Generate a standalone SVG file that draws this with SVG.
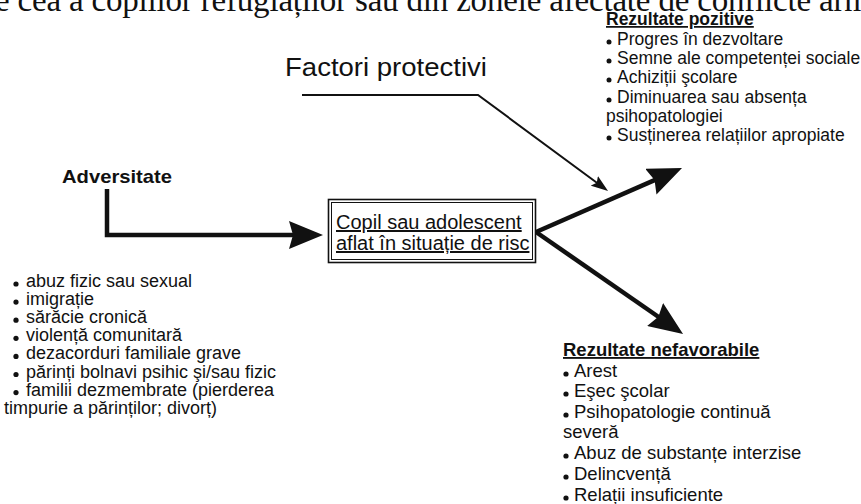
<svg xmlns="http://www.w3.org/2000/svg" width="861" height="504" viewBox="0 0 861 504">
<defs>
<style>
text{font-family:"Liberation Sans",Arial,sans-serif;fill:#111}
.top{font-family:"Liberation Serif","Times New Roman",serif;font-size:33px}
.b{font-weight:bold}
.u{text-decoration:underline}
.l18{font-size:18px}
.r17{font-size:17.5px}
.r18{font-size:18.5px}
.thick{fill:none;stroke:#111;stroke-width:4.5;stroke-linejoin:miter}
.thin{fill:none;stroke:#111;stroke-width:2}
.dot{fill:#111}
</style>
<marker id="big" markerUnits="userSpaceOnUse" markerWidth="34" markerHeight="28" viewBox="0 0 34 28" refX="14" refY="14" orient="auto">
<path d="M0,0 L34,14 L0,28 L4,14 Z" fill="#111"/>
</marker>
<marker id="small" markerUnits="userSpaceOnUse" markerWidth="17" markerHeight="12" viewBox="0 0 17 12" refX="9" refY="6" orient="auto">
<path d="M0,0 L17,6 L0,12 L3,6 Z" fill="#111"/>
</marker>
</defs>
<rect width="861" height="504" fill="#fff"/>

<text class="top" x="-14" y="11" textLength="884" lengthAdjust="spacing">te cea a copiilor refugiaților sau din zonele afectate de conflicte arm</text>

<g id="connectors">
<path class="thick" d="M107,189 L107,235 L303,235" marker-end="url(#big)"/>
<path class="thick" d="M536,232 L663.7,176.1" marker-end="url(#big)"/>
<path class="thick" d="M536,232 L666.6,322.5" marker-end="url(#big)"/>
<path class="thin" d="M302,95 L478,95 L601.6,186.2" marker-end="url(#small)"/>
</g>

<g id="factori">
<text x="285" y="76" font-size="26" textLength="202" lengthAdjust="spacingAndGlyphs">Factori protectivi</text>
</g>

<g id="adversitate">
<text class="b" x="62" y="183" font-size="19" textLength="110" lengthAdjust="spacingAndGlyphs">Adversitate</text>
<circle class="dot" cx="16" cy="284" r="2.6"/>
<circle class="dot" cx="16" cy="302.1" r="2.6"/>
<circle class="dot" cx="16" cy="320.2" r="2.6"/>
<circle class="dot" cx="16" cy="338.3" r="2.6"/>
<circle class="dot" cx="16" cy="356.4" r="2.6"/>
<circle class="dot" cx="16" cy="374.5" r="2.6"/>
<circle class="dot" cx="16" cy="392.6" r="2.6"/>
<text class="l18" x="26" y="287">abuz fizic sau sexual</text>
<text class="l18" x="26" y="305.1">imigrație</text>
<text class="l18" x="26" y="323.2">sărăcie cronică</text>
<text class="l18" x="26" y="341.3">violență comunitară</text>
<text class="l18" x="26" y="359.4">dezacorduri familiale grave</text>
<text class="l18" x="26" y="377.5">părinți bolnavi psihic şi/sau fizic</text>
<text class="l18" x="26" y="395.6">familii dezmembrate (pierderea</text>
<text class="l18" x="4" y="413.7">timpurie a părinților; divorț)</text>
</g>

<g id="copil">
<rect x="328.5" y="199.5" width="207" height="63" fill="#fff" stroke="#111" stroke-width="1.6"/>
<rect x="331.5" y="202.5" width="201" height="57" fill="none" stroke="#111" stroke-width="1"/>
<text class="u" x="336" y="229" font-size="20">Copil sau adolescent</text>
<text class="u" x="336" y="250" font-size="20">aflat în situație de risc</text>
</g>

<g id="pozitive">
<text class="b u r17" x="606" y="25">Rezultate pozitive</text>
<circle class="dot" cx="609" cy="42" r="2.5"/>
<circle class="dot" cx="609" cy="61" r="2.5"/>
<circle class="dot" cx="609" cy="80" r="2.5"/>
<circle class="dot" cx="609" cy="100" r="2.5"/>
<circle class="dot" cx="609" cy="138" r="2.5"/>
<text class="r17" x="617" y="45">Progres în dezvoltare</text>
<text class="r17" x="617" y="64">Semne ale competenței sociale</text>
<text class="r17" x="617" y="83">Achiziții şcolare</text>
<text class="r17" x="617" y="103">Diminuarea sau absența</text>
<text class="r17" x="606" y="122">psihopatologiei</text>
<text class="r17" x="617" y="141">Susținerea relațiilor apropiate</text>
</g>

<g id="nefavorabile">
<text class="b u r18" x="563" y="356">Rezultate nefavorabile</text>
<circle class="dot" cx="566" cy="374" r="2.6"/>
<circle class="dot" cx="566" cy="394" r="2.6"/>
<circle class="dot" cx="566" cy="415" r="2.6"/>
<circle class="dot" cx="566" cy="456" r="2.6"/>
<circle class="dot" cx="566" cy="477" r="2.6"/>
<circle class="dot" cx="566" cy="498" r="2.6"/>
<text class="r18" x="574" y="377">Arest</text>
<text class="r18" x="574" y="397">Eşec şcolar</text>
<text class="r18" x="574" y="418">Psihopatologie continuă</text>
<text class="r18" x="563" y="438">severă</text>
<text class="r18" x="574" y="459">Abuz de substanțe interzise</text>
<text class="r18" x="574" y="480">Delincvență</text>
<text class="r18" x="574" y="501">Relații insuficiente</text>
</g>
</svg>
